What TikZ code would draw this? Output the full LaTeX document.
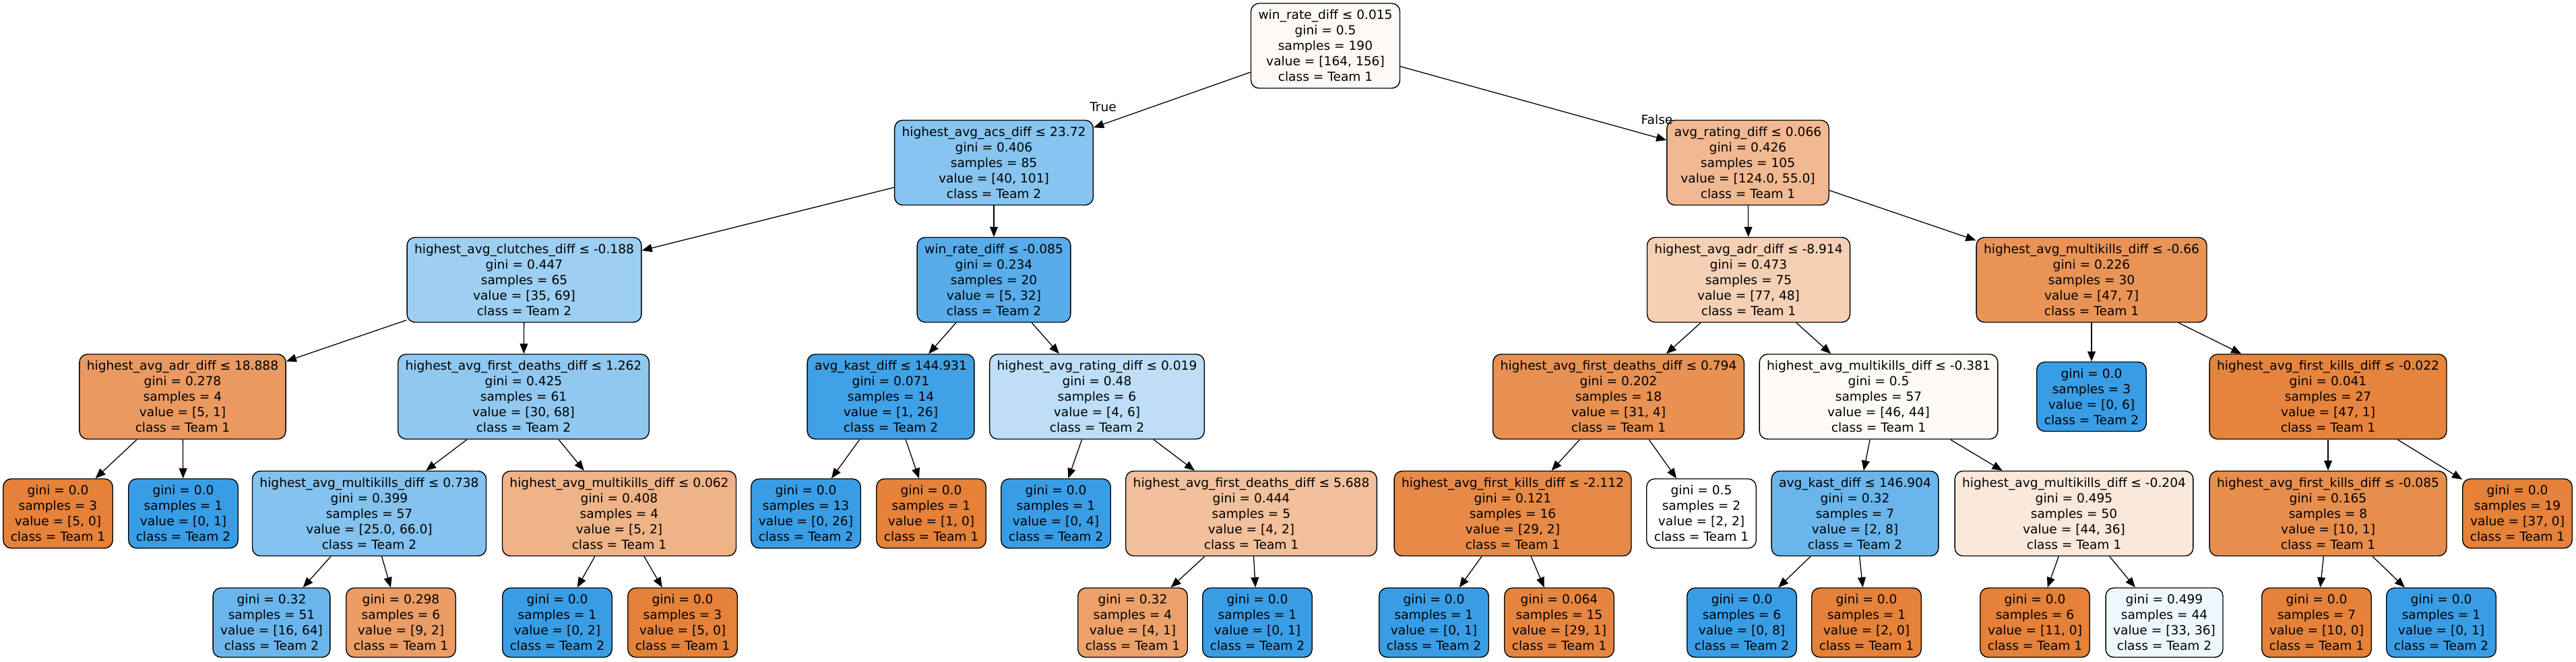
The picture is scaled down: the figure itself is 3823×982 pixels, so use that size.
\documentclass[tikz,border=0pt]{standalone}
\usepackage{fontspec}
\setmainfont{DejaVu Sans}
\usepackage{xcolor}
\usepackage{tikz}
\usetikzlibrary{arrows.meta}

\begin{document}
\begin{tikzpicture}[x=0.5pt, y=-0.5pt,
  every node/.style={font=\fontsize{9.3}{11.5}\selectfont, align=center},
  box/.style={draw, rounded corners=6pt, line width=0.7pt, inner xsep=5.5pt, minimum height=63pt},
  leaf/.style={box, minimum height=51.5pt},
  >={Triangle[length=7.5pt, width=6pt]}]
  \useasboundingbox (0,0) rectangle (3823,982);

  % Root
  \node[box, fill={rgb,255:red,254;green,249;blue,245}] (n0) at (1967,68) {win\_rate\_diff ≤ 0.015\\gini = 0.5\\samples = 190\\value = [164, 156]\\class = Team 1};

  % Level 1
  \node[box, fill={rgb,255:red,135;green,196;blue,239}] (n1) at (1475,241.5) {highest\_avg\_acs\_diff ≤ 23.72\\gini = 0.406\\samples = 85\\value = [40, 101]\\class = Team 2};
  \node[box, fill={rgb,255:red,241;green,185;blue,145}] (n22) at (2594,241.5) {avg\_rating\_diff ≤ 0.066\\gini = 0.426\\samples = 105\\value = [124.0, 55.0]\\class = Team 1};

  % Level 2
  \node[box, fill={rgb,255:red,157;green,207;blue,242}] (n2) at (778,415.5) {highest\_avg\_clutches\_diff ≤ -0.188\\gini = 0.447\\samples = 65\\value = [35, 69]\\class = Team 2};
  \node[box, fill={rgb,255:red,88;green,172;blue,233}] (n13) at (1475,415.5) {win\_rate\_diff ≤ -0.085\\gini = 0.234\\samples = 20\\value = [5, 32]\\class = Team 2};
  \node[box, fill={rgb,255:red,245;green,208;blue,180}] (n23) at (2595,415.5) {highest\_avg\_adr\_diff ≤ -8.914\\gini = 0.473\\samples = 75\\value = [77, 48]\\class = Team 1};
  \node[box, fill={rgb,255:red,233;green,148;blue,86}] (n36) at (3104,415.5) {highest\_avg\_multikills\_diff ≤ -0.66\\gini = 0.226\\samples = 30\\value = [47, 7]\\class = Team 1};

  % Level 3
  \node[box, fill={rgb,255:red,234;green,154;blue,97}] (n3) at (271,589) {highest\_avg\_adr\_diff ≤ 18.888\\gini = 0.278\\samples = 4\\value = [5, 1]\\class = Team 1};
  \node[box, fill={rgb,255:red,144;green,200;blue,240}] (n6) at (777,589) {highest\_avg\_first\_deaths\_diff ≤ 1.262\\gini = 0.425\\samples = 61\\value = [30, 68]\\class = Team 2};
  \node[box, fill={rgb,255:red,65;green,161;blue,230}] (n14) at (1322,589) {avg\_kast\_diff ≤ 144.931\\gini = 0.071\\samples = 14\\value = [1, 26]\\class = Team 2};
  \node[box, fill={rgb,255:red,189;green,222;blue,246}] (n17) at (1628,589) {highest\_avg\_rating\_diff ≤ 0.019\\gini = 0.48\\samples = 6\\value = [4, 6]\\class = Team 2};
  \node[box, fill={rgb,255:red,232;green,145;blue,82}] (n24) at (2402,589) {highest\_avg\_first\_deaths\_diff ≤ 0.794\\gini = 0.202\\samples = 18\\value = [31, 4]\\class = Team 1};
  \node[box, fill={rgb,255:red,254;green,250;blue,246}] (n29) at (2788,589) {highest\_avg\_multikills\_diff ≤ -0.381\\gini = 0.5\\samples = 57\\value = [46, 44]\\class = Team 1};
  \node[leaf, fill={rgb,255:red,57;green,157;blue,229}] (n37) at (3104,589) {gini = 0.0\\samples = 3\\value = [0, 6]\\class = Team 2};
  \node[box, fill={rgb,255:red,230;green,132;blue,61}] (n38) at (3455,589) {highest\_avg\_first\_kills\_diff ≤ -0.022\\gini = 0.041\\samples = 27\\value = [47, 1]\\class = Team 1};

  % Level 4
  \node[leaf, fill={rgb,255:red,229;green,129;blue,57}] (n4) at (86,762.5) {gini = 0.0\\samples = 3\\value = [5, 0]\\class = Team 1};
  \node[leaf, fill={rgb,255:red,57;green,157;blue,229}] (n5) at (272,762.5) {gini = 0.0\\samples = 1\\value = [0, 1]\\class = Team 2};
  \node[box, fill={rgb,255:red,132;green,194;blue,239}] (n7) at (548,762.5) {highest\_avg\_multikills\_diff ≤ 0.738\\gini = 0.399\\samples = 57\\value = [25.0, 66.0]\\class = Team 2};
  \node[box, fill={rgb,255:red,239;green,179;blue,136}] (n10) at (919,762.5) {highest\_avg\_multikills\_diff ≤ 0.062\\gini = 0.408\\samples = 4\\value = [5, 2]\\class = Team 1};
  \node[leaf, fill={rgb,255:red,57;green,157;blue,229}] (n15) at (1196,762.5) {gini = 0.0\\samples = 13\\value = [0, 26]\\class = Team 2};
  \node[leaf, fill={rgb,255:red,229;green,129;blue,57}] (n16) at (1382,762.5) {gini = 0.0\\samples = 1\\value = [1, 0]\\class = Team 1};
  \node[leaf, fill={rgb,255:red,57;green,157;blue,229}] (n18) at (1567,762.5) {gini = 0.0\\samples = 1\\value = [0, 4]\\class = Team 2};
  \node[box, fill={rgb,255:red,242;green,192;blue,156}] (n19) at (1857,762.5) {highest\_avg\_first\_deaths\_diff ≤ 5.688\\gini = 0.444\\samples = 5\\value = [4, 2]\\class = Team 1};
  \node[box, fill={rgb,255:red,231;green,138;blue,71}] (n25) at (2245,762.5) {highest\_avg\_first\_kills\_diff ≤ -2.112\\gini = 0.121\\samples = 16\\value = [29, 2]\\class = Team 1};
  \node[leaf, fill=white] (n28) at (2525,762.5) {gini = 0.5\\samples = 2\\value = [2, 2]\\class = Team 1};
  \node[box, fill={rgb,255:red,106;green,182;blue,236}] (n30) at (2753,762.5) {avg\_kast\_diff ≤ 146.904\\gini = 0.32\\samples = 7\\value = [2, 8]\\class = Team 2};
  \node[box, fill={rgb,255:red,250;green,232;blue,219}] (n33) at (3078,762.5) {highest\_avg\_multikills\_diff ≤ -0.204\\gini = 0.495\\samples = 50\\value = [44, 36]\\class = Team 1};
  \node[box, fill={rgb,255:red,232;green,142;blue,77}] (n39) at (3455,762.5) {highest\_avg\_first\_kills\_diff ≤ -0.085\\gini = 0.165\\samples = 8\\value = [10, 1]\\class = Team 1};
  \node[leaf, fill={rgb,255:red,229;green,129;blue,57}] (n42) at (3736,762.5) {gini = 0.0\\samples = 19\\value = [37, 0]\\class = Team 1};

  % Level 5
  \node[leaf, fill={rgb,255:red,106;green,182;blue,236}] (n8) at (403,924.5) {gini = 0.32\\samples = 51\\value = [16, 64]\\class = Team 2};
  \node[leaf, fill={rgb,255:red,235;green,157;blue,101}] (n9) at (595,924.5) {gini = 0.298\\samples = 6\\value = [9, 2]\\class = Team 1};
  \node[leaf, fill={rgb,255:red,57;green,157;blue,229}] (n11) at (827,924.5) {gini = 0.0\\samples = 1\\value = [0, 2]\\class = Team 2};
  \node[leaf, fill={rgb,255:red,229;green,129;blue,57}] (n12) at (1013,924.5) {gini = 0.0\\samples = 3\\value = [5, 0]\\class = Team 1};
  \node[leaf, fill={rgb,255:red,236;green,160;blue,106}] (n20) at (1681,924.5) {gini = 0.32\\samples = 4\\value = [4, 1]\\class = Team 1};
  \node[leaf, fill={rgb,255:red,57;green,157;blue,229}] (n21) at (1866,924.5) {gini = 0.0\\samples = 1\\value = [0, 1]\\class = Team 2};
  \node[leaf, fill={rgb,255:red,57;green,157;blue,229}] (n26) at (2128,924.5) {gini = 0.0\\samples = 1\\value = [0, 1]\\class = Team 2};
  \node[leaf, fill={rgb,255:red,230;green,133;blue,64}] (n27) at (2314,924.5) {gini = 0.064\\samples = 15\\value = [29, 1]\\class = Team 1};
  \node[leaf, fill={rgb,255:red,57;green,157;blue,229}] (n31) at (2585,924.5) {gini = 0.0\\samples = 6\\value = [0, 8]\\class = Team 2};
  \node[leaf, fill={rgb,255:red,229;green,129;blue,57}] (n32) at (2770,924.5) {gini = 0.0\\samples = 1\\value = [2, 0]\\class = Team 1};
  \node[leaf, fill={rgb,255:red,229;green,129;blue,57}] (n34) at (3020,924.5) {gini = 0.0\\samples = 6\\value = [11, 0]\\class = Team 1};
  \node[leaf, fill={rgb,255:red,238;green,247;blue,253}] (n35) at (3212,924.5) {gini = 0.499\\samples = 44\\value = [33, 36]\\class = Team 2};
  \node[leaf, fill={rgb,255:red,229;green,129;blue,57}] (n40) at (3438,924.5) {gini = 0.0\\samples = 7\\value = [10, 0]\\class = Team 1};
  \node[leaf, fill={rgb,255:red,57;green,157;blue,229}] (n41) at (3623,924.5) {gini = 0.0\\samples = 1\\value = [0, 1]\\class = Team 2};

  % Edges
  \draw[->, line width=0.65pt] (n0) -- (n1);
  \draw[->, line width=0.65pt] (n0) -- (n22);
  \node (lt) at (1637,159) {True};
  \node (lf) at (2459,178) {False};

  \draw[->, line width=0.65pt] (n1) -- (n2);
  \draw[->, line width=0.65pt] (n1) -- (n13);
  \draw[->, line width=0.65pt] (n22) -- (n23);
  \draw[->, line width=0.65pt] (n22) -- (n36);

  \draw[->, line width=0.65pt] (n2) -- (n3);
  \draw[->, line width=0.65pt] (n2) -- (n6);
  \draw[->, line width=0.65pt] (n13) -- (n14);
  \draw[->, line width=0.65pt] (n13) -- (n17);
  \draw[->, line width=0.65pt] (n23) -- (n24);
  \draw[->, line width=0.65pt] (n23) -- (n29);
  \draw[->, line width=0.65pt] (n36) -- (n37);
  \draw[->, line width=0.65pt] (n36) -- (n38);

  \draw[->, line width=0.65pt] (n3) -- (n4);
  \draw[->, line width=0.65pt] (n3) -- (n5);
  \draw[->, line width=0.65pt] (n6) -- (n7);
  \draw[->, line width=0.65pt] (n6) -- (n10);
  \draw[->, line width=0.65pt] (n14) -- (n15);
  \draw[->, line width=0.65pt] (n14) -- (n16);
  \draw[->, line width=0.65pt] (n17) -- (n18);
  \draw[->, line width=0.65pt] (n17) -- (n19);
  \draw[->, line width=0.65pt] (n24) -- (n25);
  \draw[->, line width=0.65pt] (n24) -- (n28);
  \draw[->, line width=0.65pt] (n29) -- (n30);
  \draw[->, line width=0.65pt] (n29) -- (n33);
  \draw[->, line width=0.65pt] (n38) -- (n39);
  \draw[->, line width=0.65pt] (n38) -- (n42);

  \draw[->, line width=0.65pt] (n7) -- (n8);
  \draw[->, line width=0.65pt] (n7) -- (n9);
  \draw[->, line width=0.65pt] (n10) -- (n11);
  \draw[->, line width=0.65pt] (n10) -- (n12);
  \draw[->, line width=0.65pt] (n19) -- (n20);
  \draw[->, line width=0.65pt] (n19) -- (n21);
  \draw[->, line width=0.65pt] (n25) -- (n26);
  \draw[->, line width=0.65pt] (n25) -- (n27);
  \draw[->, line width=0.65pt] (n30) -- (n31);
  \draw[->, line width=0.65pt] (n30) -- (n32);
  \draw[->, line width=0.65pt] (n33) -- (n34);
  \draw[->, line width=0.65pt] (n33) -- (n35);
  \draw[->, line width=0.65pt] (n39) -- (n40);
  \draw[->, line width=0.65pt] (n39) -- (n41);
\end{tikzpicture}
\end{document}
